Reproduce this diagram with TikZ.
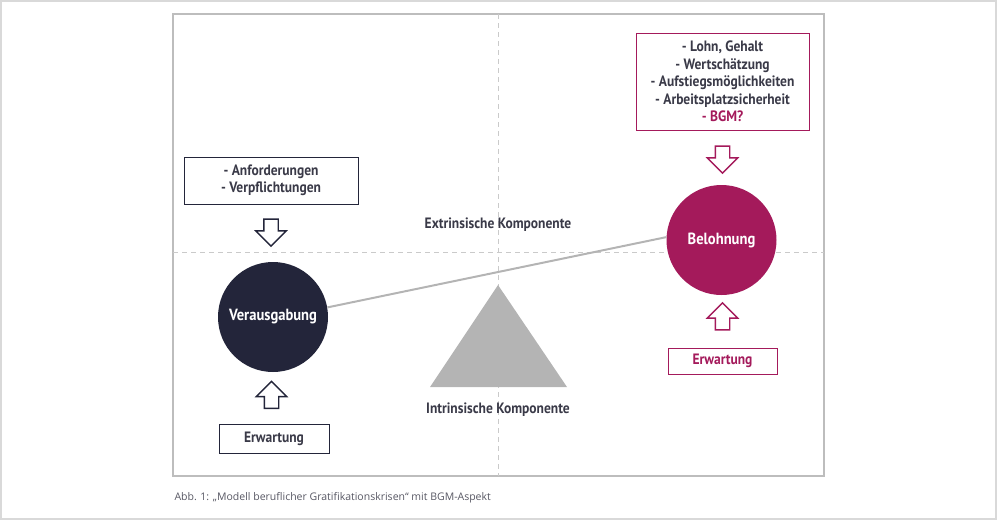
\documentclass[tikz,border=0pt]{standalone}
\usepackage{fontspec}
\setmainfont[FakeStretch=0.9]{PT Sans}
\newfontfamily\captionfont{Open Sans}
\usetikzlibrary{shapes.arrows}

\definecolor{navy}{HTML}{23253A}
\definecolor{berry}{HTML}{A41A5B}
\definecolor{textgray}{HTML}{3A3A48}
\definecolor{linegray}{HTML}{B4B4B4}
\definecolor{framegray}{HTML}{BDBDBD}
\definecolor{outergray}{HTML}{D9D9D9}

\tikzset{
  listbox/.style={draw=navy, line width=1pt, fill=white, text=textgray, align=center, inner sep=0pt,
    font=\bfseries\fontsize{15}{17.4}\selectfont},
  ball/.style={circle, minimum size=110pt, inner sep=0pt, text=white,
    font=\bfseries\fontsize{16.2}{18}\selectfont},
  hollow/.style={single arrow, draw=navy, line width=1.4pt, fill=white, inner sep=6.5pt,
    minimum height=27pt, minimum width=29pt, single arrow head extend=8pt},
  label/.style={text=textgray, font=\bfseries\fontsize{15}{17}\selectfont},
  axis/.style={framegray!80, line width=1pt, dash pattern=on 5pt off 4pt},
}

\begin{document}
\begin{tikzpicture}[x=1pt, y=-1pt]
  \useasboundingbox (0,0) rectangle (997,520);
  \draw[outergray, line width=1.5pt] (1,1) rectangle (996,519);
  \draw[framegray, line width=1.3pt] (173,14) rectangle (824,476);

  % axes
  \draw[axis] (173,252) -- (824,252);
  \draw[axis] (498,14) -- (498,476);

  \node[label] (ext) at (498,225) {Extrinsische Komponente};
  \node[label] (int) at (498,410) {Intrinsische Komponente};

  % lever
  \fill[linegray] (498,285) -- (567,387) -- (430,387) -- cycle;

  \node[ball, fill=navy]  (vera) at (273,317) {Verausgabung};
  \node[ball, fill=berry] (bel)  at (721.5,240) {Belohnung};
  \draw[linegray, line width=2pt] (vera.10) -- (bel.177);

  % left side
  \node[listbox, minimum width=174pt, minimum height=47pt] (anf) at (271,180.5)
    {- Anforderungen\\- Verpflichtungen};
  \node[hollow, rotate=-90] (anfarrow) at (271,229) {};
  \node[hollow, rotate=90] (erwarrow) at (271.5,398.5) {};
  \node[listbox, minimum width=110pt, minimum height=29pt] (erw) at (274,438.5) {Erwartung};

  % right side
  \node[listbox, draw=berry, minimum width=173pt, minimum height=97pt] (lohn) at (722.5,81.5)
    {- Lohn, Gehalt\\- Wertschätzung\\- Aufstiegsmöglichkeiten\\- Arbeitsplatzsicherheit\\\textcolor{berry}{- BGM?}};
  \node[hollow, draw=berry, rotate=-90] (lohnarrow) at (722.5,156) {};
  \node[hollow, draw=berry, rotate=90] (belarrow) at (722.5,320) {};
  \node[listbox, draw=berry, text=berry, minimum width=109pt, minimum height=26pt] (erwb) at (722.5,361) {Erwartung};

  \node[anchor=west, text=textgray!85, font=\captionfont\fontsize{10.5}{12}\selectfont] (cap) at (171,498)
    {Abb. 1: „Modell beruflicher Gratifikationskrisen“ mit BGM-Aspekt};
\end{tikzpicture}
\end{document}
